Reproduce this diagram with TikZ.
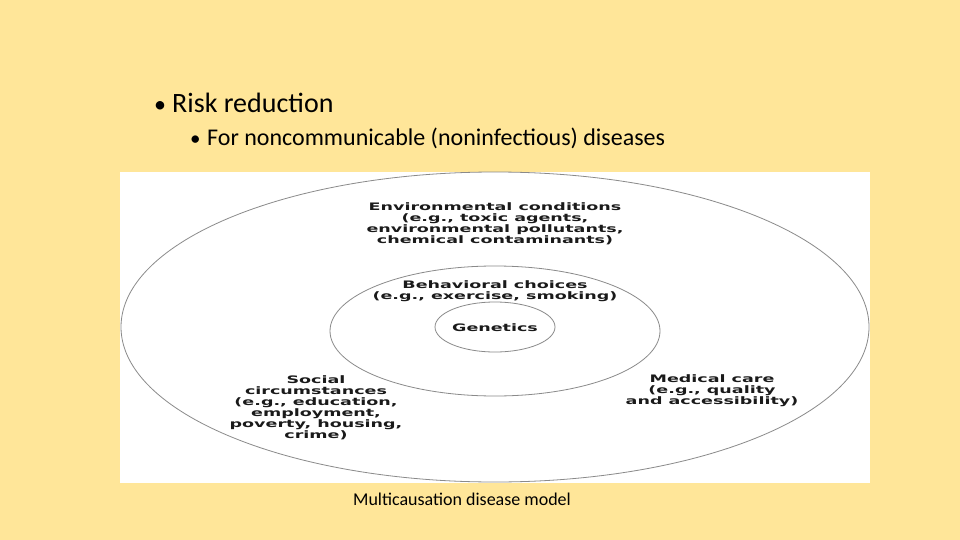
\documentclass[tikz,border=0pt]{standalone}
\usepackage{fontspec}
\setmainfont{Carlito}
\newfontfamily\dfont[FakeStretch=1.7]{DejaVu Sans}
\definecolor{bg}{HTML}{FFE699}
\definecolor{ring}{HTML}{8A8A8A}
\definecolor{ink}{HTML}{1A1A1A}
\begin{document}
\begin{tikzpicture}[x=1pt,y=-1pt,
  ringline/.style={draw=ring,line width=0.8pt},
  lab/.style={align=center,text=ink,font=\dfont\bfseries\fontsize{10.3}{11}\selectfont,inner sep=0pt},
  bul/.style={anchor=base west,inner sep=0pt,text=black}]
\useasboundingbox (0,0) rectangle (960,540);
\fill[bg] (0,0) rectangle (960,540);
\fill[white] (120,172) rectangle (870,483);
\node[bul,font=\fontsize{24}{32}\selectfont] (d1) at (154,113) {\textbullet};
\node[bul,font=\fontsize{28}{32}\selectfont] (b1) at (172,113) {Risk reduction};
\node[bul,font=\fontsize{21}{28}\selectfont] (d2) at (190,146) {\textbullet};
\node[bul,font=\fontsize{24}{28}\selectfont] (b2) at (207,146) {For noncommunicable (noninfectious) diseases};
\draw[ringline] (495,327) ellipse [x radius=374, y radius=155];
\draw[ringline] (495,331) ellipse [x radius=165, y radius=65];
\draw[ringline] (495,327) ellipse [x radius=60, y radius=25];
\node[lab] (env) at (495,224) {Environmental conditions\\(e.g., toxic agents,\\environmental pollutants,\\chemical contaminants)};
\node[lab] (beh) at (495,291) {Behavioral choices\\(e.g., exercise, smoking)};
\node[lab] (gen) at (495,328) {Genetics};
\node[lab] (soc) at (316,408) {Social\\circumstances\\(e.g., education,\\employment,\\poverty, housing,\\crime)};
\node[lab] (med) at (712,391) {Medical care\\(e.g., quality\\and accessibility)};
\node[font=\fontsize{18}{21}\selectfont,inner sep=0pt] (cap) at (462,499) {Multicausation disease model};
\end{tikzpicture}
\end{document}
